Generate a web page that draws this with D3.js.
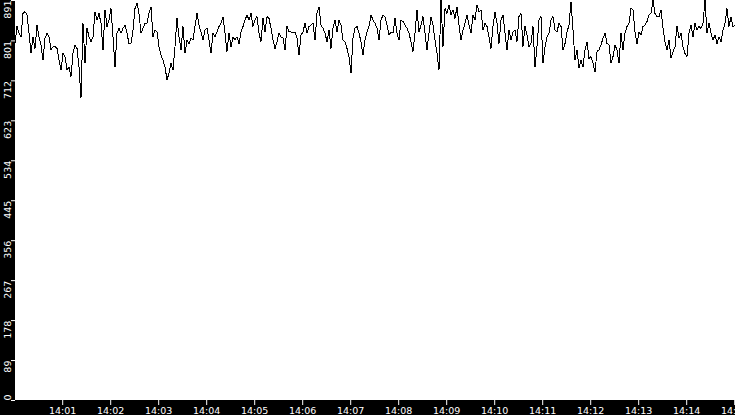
<!DOCTYPE html>
<html>
<head>
<meta charset="utf-8">
<script src="https://cdn.jsdelivr.net/npm/d3@7"></script>
<style>
  body { margin: 0; background: #000; overflow: hidden; }
  svg { display: block; }
  .tick text { fill: #fff; font-family: 'DejaVu Sans', sans-serif; font-size: 9.5px; }
  .tick line { stroke: #fff; }
</style>
</head>
<body>
<div id="chart"></div>
<script>
'use strict'

// samples, one every 2.5 seconds from the start time
const startTime = '14:00:01'
const stepMs = 2500
const values = [
  // 14:00
  794, 832, 817, 809, 861, 865, 858, 817, 772, 809, 783, 835, 809, 791, 757, 806,
  817, 809, 780, 787, 787, 783, 757, 735, 772, 765, 735, 742, 720, 772, 791, 783,
  742, 672, 839, 750, 828, 809, 798, 809, 865, 846, 861, 839, 780, 869, 832, 846,
  872, 809, 742, 817, 828, 817, 828, 835, 817, 794, 794, 824, 872, 884, 861,
  // 14:02:36
  817, 828, 839, 839, 861, 876, 809, 824, 820, 787, 768, 757, 742, 713, 728, 750,
  735, 787, 850, 809, 780, 832, 772, 802, 794, 806, 802, 832, 861, 835, 820, 802,
  824, 828, 802, 772, 817, 809, 820, 832, 839, 854, 817, 776, 817, 787, 809, 802,
  809, 794, 820, 832, 846, 858, 846, 861, 832, 846, 854,
  // 14:05:04
  817, 798, 850, 820, 854, 850, 828, 802, 783, 798, 817, 809, 806, 780, 832, 820,
  820, 817, 820, 806, 768, 813, 820, 839, 817, 832, 835, 839, 802, 861, 876, 835,
  828, 817, 798, 824, 783, 828, 846, 820, 846, 835, 802, 798, 783, 765, 728, 806,
  828, 832, 817, 798, 768, 802, 820, 832, 858, 846, 839, 828, 802,
  // 14:07:36
  846, 858, 854, 835, 813, 820, 817, 850, 817, 802, 846, 843, 835, 828, 817, 798,
  776, 817, 869, 820, 835, 854, 817, 780, 817, 854, 835, 802, 772, 735, 891, 787,
  872, 861, 880, 858, 869, 850, 876, 835, 802, 824, 839, 858, 835, 817, 858, 846,
  880, 865, 869, 824, 839, 832, 809, 783, 832, 865, 839,
  // 14:10:04
  794, 846, 858, 817, 780, 824, 802, 820, 824, 798, 854, 861, 787, 832, 813, 787,
  794, 832, 742, 787, 846, 854, 750, 787, 809, 817, 846, 854, 824, 820, 839, 832,
  780, 794, 820, 835, 887, 824, 757, 780, 739, 757, 742, 780, 798, 761, 765, 750,
  731, 776, 780, 791, 806, 817, 794, 791, 750, 765, 791, 780, 750,
  // 14:12:36
  817, 780, 817, 832, 839, 872, 869, 820, 794, 820, 813, 832, 835, 843, 858, 861,
  891, 861, 854, 854, 869, 828, 798, 780, 802, 761, 776, 787, 832, 806, 817, 787,
  772, 765, 817, 835, 809, 839, 824, 832, 828, 839, 891, 817, 839, 817, 802, 813,
  794, 809, 798, 824, 839, 872, 832, 854, 832, 835
]
const yTickLabels = [0, 89, 178, 267, 356, 445, 534, 623, 712, 801, 891]
const xTickFormat = '%H:%M'

const width = 735
const height = 415
const margin = { top: 0, right: 0, bottom: 15, left: 15 }

const t0 = d3.timeParse('%H:%M:%S')(startTime)
const points = values.map((v, i) => ({ time: d3.timeMillisecond.offset(t0, i * stepMs), value: v }))

const svg = d3.select('#chart')
  .append('svg')
  .attr('width', width)
  .attr('height', height)

// white plot area on the black frame
svg.append('rect')
  .attr('x', margin.left)
  .attr('y', margin.top)
  .attr('width', width - margin.left - margin.right)
  .attr('height', height - margin.top - margin.bottom)
  .attr('fill', '#fff')

const x = d3.scaleTime()
  .domain(d3.extent(points, d => d.time))
  .range([margin.left, width - margin.right])

const y = d3.scaleLinear()
  .domain([0, d3.max(yTickLabels)])
  .range([height - margin.bottom, margin.top])

const line = d3.line()
  .x(d => x(d.time))
  .y(d => y(d.value))

svg.append('path')
  .datum(points)
  .attr('fill', 'none')
  .attr('stroke', '#000')
  .attr('stroke-width', 1)
  .attr('shape-rendering', 'crispEdges')
  .attr('d', line)

// x axis
const xAxis = svg.append('g')
  .attr('class', 'x axis')
  .attr('transform', `translate(0,${height - margin.bottom})`)
  .call(d3.axisBottom(x)
    .ticks(d3.timeMinute.every(1))
    .tickFormat(d3.timeFormat(xTickFormat))
    .tickSize(5)
    .tickPadding(2))
xAxis.select('.domain').remove()

// y axis, labels turned on their side
const yAxis = svg.append('g')
  .attr('class', 'y axis')
  .attr('transform', `translate(${margin.left},0)`)
  .call(d3.axisLeft(y)
    .tickValues(yTickLabels)
    .tickFormat(d => d)
    .tickSize(4))
yAxis.select('.domain').remove()
yAxis.selectAll('.tick text')
  .attr('x', 0)
  .attr('y', 0)
  .attr('dy', null)
  .attr('transform', 'translate(-4,0) rotate(-90)')
  .attr('text-anchor', d => d === 0 ? 'start' : 'end')
</script>
</body>
</html>
